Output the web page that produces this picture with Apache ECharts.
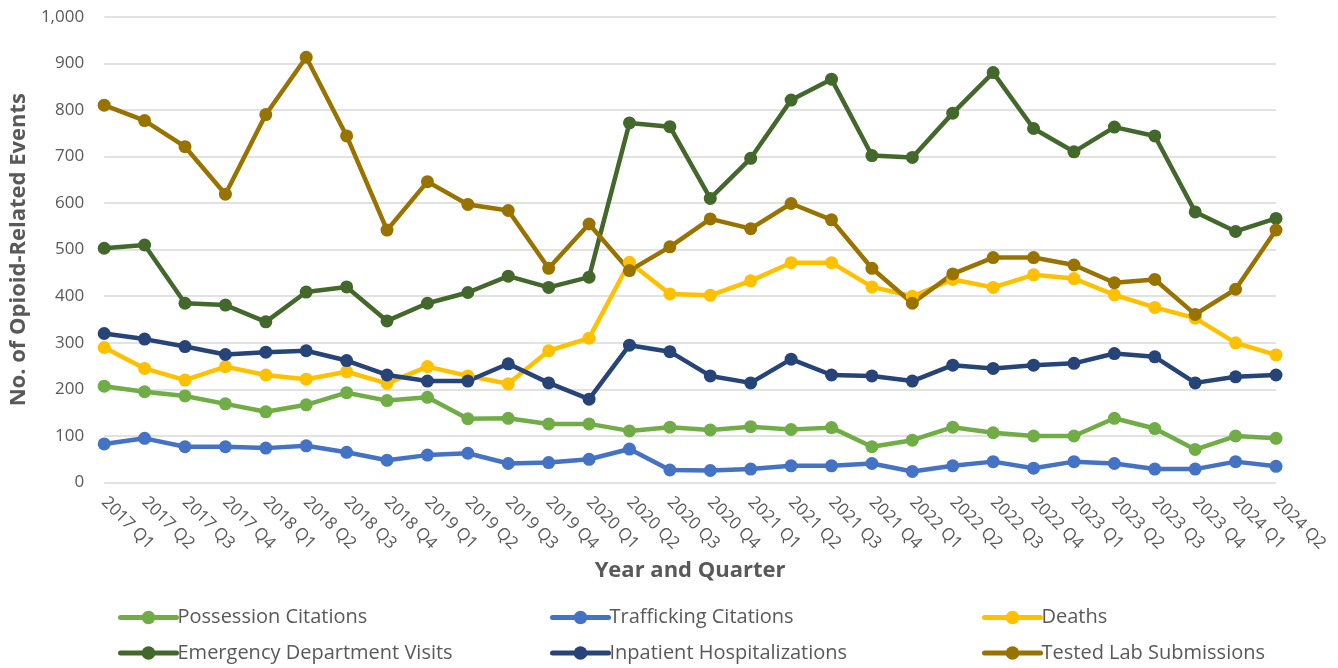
<!DOCTYPE html>
<html>
<head>
<meta charset="utf-8">
<script src="https://cdn.jsdelivr.net/npm/echarts@6/dist/echarts.min.js"></script>
<style>
html,body{margin:0;padding:0;background:#fff;}
#chart{width:1338px;height:668px;}
</style>
</head>
<body>
<div id="chart"></div>
<script>
const categories = ['2017 Q1','2017 Q2','2017 Q3','2017 Q4','2018 Q1','2018 Q2','2018 Q3','2018 Q4','2019 Q1','2019 Q2','2019 Q3','2019 Q4','2020 Q1','2020 Q2','2020 Q3','2020 Q4','2021 Q1','2021 Q2','2021 Q3','2021 Q4','2022 Q1','2022 Q2','2022 Q3','2022 Q4','2023 Q1','2023 Q2','2023 Q3','2023 Q4','2024 Q1','2024 Q2'];
const possession = [207,195,186,169,152,167,193,176,183,137,138,126,126,111,119,113,120,114,118,77,91,119,107,100,100,138,116,71,100,95];
const trafficking = [83,95,77,77,74,79,65,48,59,63,41,43,50,72,27,26,29,36,36,41,24,36,45,31,45,41,29,29,45,35];
const deaths = [290,245,220,249,231,222,238,213,249,229,212,283,310,473,405,402,433,472,472,420,400,436,419,446,438,403,376,353,300,274];
const edVisits = [503,510,385,381,345,409,420,347,385,408,443,419,441,772,764,610,696,821,866,702,698,793,880,760,710,763,744,581,539,567];
const inpatient = [320,308,292,275,280,283,262,231,218,218,255,214,179,295,281,229,214,265,231,229,218,252,245,252,256,277,270,214,227,231];
const labSubmissions = [810,777,721,619,790,913,744,542,646,597,584,460,555,455,506,566,545,599,564,460,385,448,483,483,467,429,436,361,415,542];
const yTicks = {min: 0, max: 1000, interval: 100};

const seriesDefs = [
  {name: 'Possession Citations', data: possession, color: '#70AD47'},
  {name: 'Trafficking Citations', data: trafficking, color: '#4472C4'},
  {name: 'Deaths', data: deaths, color: '#FFC000'},
  {name: 'Emergency Department Visits', data: edVisits, color: '#43682B'},
  {name: 'Inpatient Hospitalizations', data: inpatient, color: '#264478'},
  {name: 'Tested Lab Submissions', data: labSubmissions, color: '#997300'}
];

const legendPos = [
  {left: 118, top: 607.5},
  {left: 550, top: 607.5},
  {left: 982, top: 607.5},
  {left: 118, top: 643},
  {left: 550, top: 643},
  {left: 982, top: 643}
];

const chart = echarts.init(document.getElementById('chart'));
chart.setOption({
  animation: false,
  backgroundColor: '#ffffff',
  grid: {left: 97, right: 62, top: 16.7, bottom: 185.4},
  legend: seriesDefs.map((s, i) => ({
    data: [s.name],
    left: legendPos[i].left,
    top: legendPos[i].top,
    padding: 0,
    itemWidth: 56,
    itemHeight: 17,
    itemGap: 0,
    lineStyle: {width: 5, cap: 'round'},
    textStyle: {fontFamily: 'Open Sans', fontSize: 20, color: '#595959', lineHeight: 20, padding: [0,0,0,-4]}
  })),
  xAxis: {
    type: 'category',
    data: categories,
    boundaryGap: false,
    axisLine: {show: false},
    axisTick: {show: false},
    axisLabel: {rotate: -45, margin: 17, fontFamily: 'Open Sans', fontSize: 17, color: '#595959', interval: 0},
    name: 'Year and Quarter',
    nameLocation: 'middle',
    nameGap: 76,
    nameTextStyle: {fontFamily: 'Open Sans', fontWeight: 'bold', fontSize: 22, color: '#595959'}
  },
  yAxis: {
    type: 'value',
    min: yTicks.min,
    max: yTicks.max,
    interval: yTicks.interval,
    axisLine: {show: false},
    axisTick: {show: false},
    splitLine: {lineStyle: {color: '#d9d9d9', width: 1.5}},
    axisLabel: {margin: 20, fontFamily: 'Open Sans', fontSize: 17, color: '#595959',
      formatter: v => v.toLocaleString('en-US')},
    name: 'No. of Opioid-Related Events',
    nameLocation: 'middle',
    nameGap: 64,
    nameTextStyle: {fontFamily: 'Open Sans', fontWeight: 'bold', fontSize: 22, color: '#595959'}
  },
  series: seriesDefs.map(s => ({
    name: s.name,
    type: 'line',
    data: s.data,
    symbol: 'circle',
    symbolSize: 13,
    color: s.color,
    lineStyle: {color: s.color, width: 4.5},
    itemStyle: {color: s.color}
  }))
});
</script>
</body>
</html>
